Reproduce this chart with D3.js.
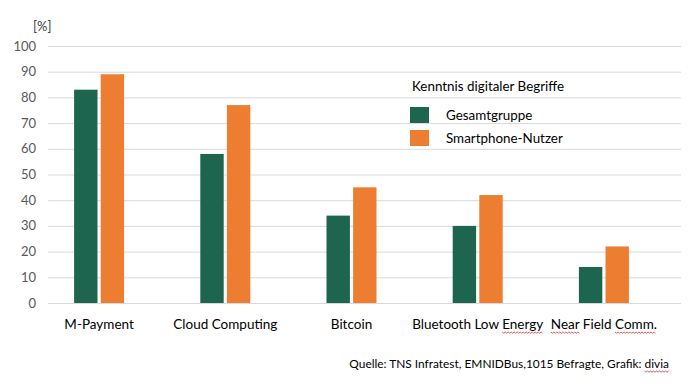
<!DOCTYPE html>
<html lang="de">
<head>
<meta charset="utf-8">
<title>Kenntnis digitaler Begriffe</title>
<script src="https://d3js.org/d3.v7.min.js"></script>
<style>
  body { margin: 0; background: #fff; }
  text { font-family: Lato, "Open Sans", sans-serif; }
</style>
</head>
<body>
<svg width="697" height="385"></svg>
<script>
var categories = ["M-Payment", "Cloud Computing", "Bitcoin", "Bluetooth Low Energy", "Near Field Comm."];
var seriesNames = ["Gesamtgruppe", "Smartphone-Nutzer"];
var gesamt = [83, 58, 34, 30, 14];
var smartphone = [89, 77, 45, 42, 22];
var yTicks = [0, 10, 20, 30, 40, 50, 60, 70, 80, 90, 100];
var legendTitle = "Kenntnis digitaler Begriffe";
var source = "Quelle: TNS Infratest, EMNIDBus,1015 Befragte, Grafik: divia";

var colors = ["#1d654f", "#ed7d31"];

var svg = d3.select("svg");

var y = d3.scaleLinear().domain([0, 100]).range([303, 46]);
var x = d3.scaleBand().domain(categories).range([36, 667]);
var xs = d3.scaleBand().domain(seriesNames).range([0, 50]).paddingInner(0.12);

// gridlines
svg.append("g").selectAll("line")
  .data(yTicks)
  .enter().append("line")
    .attr("x1", 48).attr("x2", 681)
    .attr("y1", function(d) { return y(d) + 0.5; })
    .attr("y2", function(d) { return y(d) + 0.5; })
    .attr("stroke", "#d9d9d9")
    .attr("stroke-width", 1);

// y tick labels
svg.append("g").selectAll("text")
  .data(yTicks)
  .enter().append("text")
    .attr("x", 36)
    .attr("y", function(d) { return y(d) + 4.5; })
    .attr("text-anchor", "end")
    .attr("font-size", 13)
    .attr("fill", "#595959")
    .text(function(d) { return d; });

svg.append("text")
  .attr("x", 33).attr("y", 31)
  .attr("font-size", 13)
  .attr("fill", "#404040")
  .text("[%]");

// bars
var data = categories.map(function(c, i) {
  return { cat: c, vals: [gesamt[i], smartphone[i]] };
});

var groups = svg.append("g").selectAll("g")
  .data(data)
  .enter().append("g")
    .attr("transform", function(d) { return "translate(" + (x(d.cat) + x.bandwidth() / 2 - 25) + ",0)"; });

groups.selectAll("rect")
  .data(function(d) { return d.vals.map(function(v, j) { return { s: seriesNames[j], v: v, j: j }; }); })
  .enter().append("rect")
    .attr("x", function(d) { return xs(d.s); })
    .attr("width", xs.bandwidth())
    .attr("y", function(d) { return y(d.v); })
    .attr("height", function(d) { return y(0) - y(d.v); })
    .attr("fill", function(d) { return colors[d.j]; });

// category labels
var catLabels = svg.append("g").selectAll("text")
  .data(categories)
  .enter().append("text")
    .attr("x", function(d) { return x(d) + x.bandwidth() / 2; })
    .attr("y", 329)
    .attr("text-anchor", "middle")
    .attr("font-size", 13.5)
    .attr("fill", "#000")
    .text(function(d) { return d; });

// legend
var lg = svg.append("g");
lg.append("text")
  .attr("x", 412).attr("y", 91)
  .attr("font-size", 13.4)
  .attr("fill", "#000")
  .text(legendTitle);

var items = lg.selectAll("g")
  .data(seriesNames)
  .enter().append("g")
    .attr("transform", function(d, i) { return "translate(0," + (i * 23) + ")"; });
items.append("rect")
  .attr("x", 410).attr("y", 107)
  .attr("width", 19).attr("height", 16)
  .attr("fill", function(d, i) { return colors[i]; });
items.append("text")
  .attr("x", 446).attr("y", 120)
  .attr("font-size", 13.4)
  .attr("fill", "#000")
  .text(function(d) { return d; });

// source
var src = svg.append("text")
  .attr("x", 669).attr("y", 368)
  .attr("text-anchor", "end")
  .attr("font-size", 11.9)
  .attr("fill", "#000")
  .text(source);

// spell-check squiggles under some words
function squiggle(node, word) {
  var txt = node.textContent;
  var idx = txt.indexOf(word);
  if (idx < 0) return;
  var start = node.getStartPositionOfChar(idx).x;
  var end = node.getEndPositionOfChar(idx + word.length - 1).x;
  var by = +d3.select(node).attr("y") + 3;
  var pts = [];
  for (var px = start, k = 0; px <= end; px += 1.5, k++) {
    pts.push([px, by + (k % 2 ? 1.2 : 0)]);
  }
  svg.append("path")
    .attr("d", d3.line()(pts))
    .attr("fill", "none")
    .attr("stroke", "#e03030")
    .attr("stroke-width", 0.8);
}
catLabels.each(function(d) {
  if (d === "Bluetooth Low Energy") squiggle(this, "Energy");
  if (d === "Near Field Comm.") { squiggle(this, "Near"); squiggle(this, "Comm."); }
});
squiggle(src.node(), "divia");
</script>
</body>
</html>
